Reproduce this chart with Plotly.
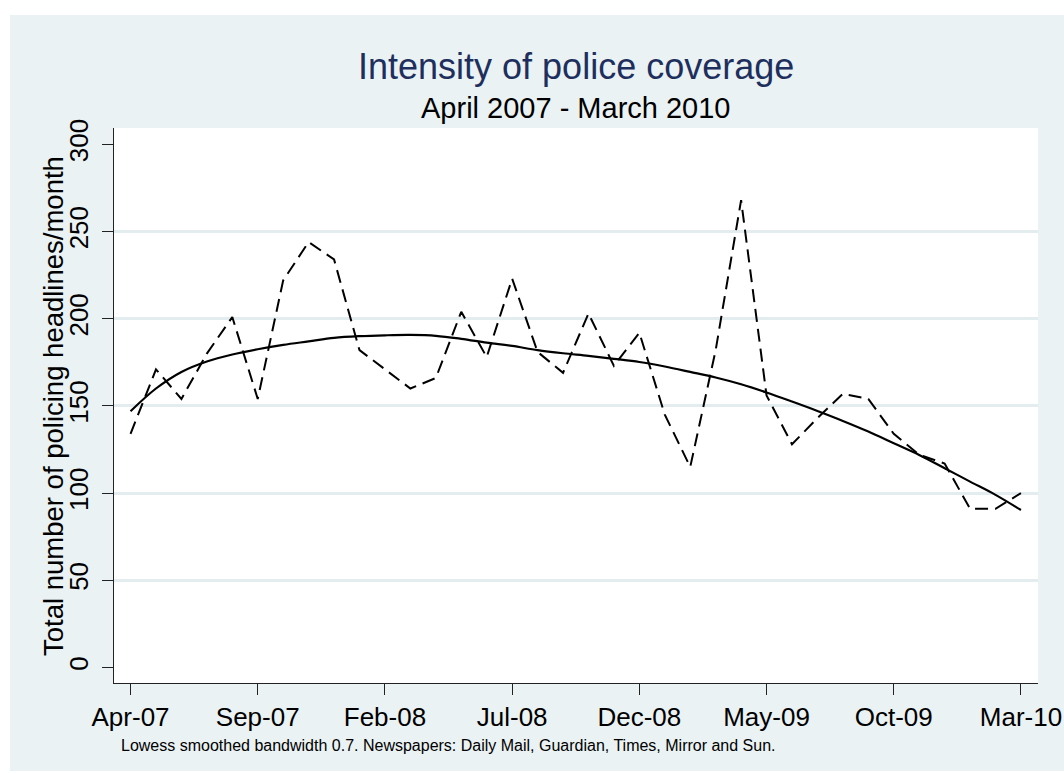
import plotly.graph_objects as go

# ---- data ----
months = ["Apr-07", "May-07", "Jun-07", "Jul-07", "Aug-07", "Sep-07", "Oct-07", "Nov-07", "Dec-07",
          "Jan-08", "Feb-08", "Mar-08", "Apr-08", "May-08", "Jun-08", "Jul-08", "Aug-08", "Sep-08",
          "Oct-08", "Nov-08", "Dec-08", "Jan-09", "Feb-09", "Mar-09", "Apr-09", "May-09", "Jun-09",
          "Jul-09", "Aug-09", "Sep-09", "Oct-09", "Nov-09", "Dec-09", "Jan-10", "Feb-10", "Mar-10"]
headlines = [134, 171, 154, 180, 201, 154, 222, 244, 234, 182, 171, 160,
             166, 204, 178, 223, 181, 169, 203, 173, 192, 145, 115, 182,
             268, 156, 128, 143, 157, 154, 134, 122, 117, 91, 91, 100]
lowess = [147, 160, 169.5, 175.5, 179.5, 182.5, 185, 187, 189, 190, 190.5, 190.7,
          190.2, 188.5, 186.3, 184.4, 182, 180.2, 178.7, 177, 175.2, 172.6, 169.5, 166.3,
          162.4, 157.7, 152.5, 147.1, 141.4, 135.3, 128.6, 121.9, 114.3, 106.6, 99, 90.3]
x_tick_labels = ["Apr-07", "Sep-07", "Feb-08", "Jul-08", "Dec-08", "May-09", "Oct-09", "Mar-10"]
y_ticks = [0, 50, 100, 150, 200, 250, 300]
grid_ticks = [50, 100, 150, 200, 250]

title = "Intensity of police coverage"
subtitle = "April 2007 - March 2010"
y_title = "Total number of policing headlines/month"
note = "Lowess smoothed bandwidth 0.7. Newspapers: Daily Mail, Guardian, Times, Mirror and Sun."

# ---- layout constants ----
W, H = 1064, 774
ML, MR, MT, MB = 114, 26, 128, 91
PW, PH = W - ML - MR, H - MT - MB
BG = "#EAF2F3"
FONT = "Liberation Sans, Arial, sans-serif"


def px_x(px):
    return (px - ML) / PW


def px_y(py):
    return 1 - (py - MT) / PH


idx = list(range(len(months)))
tick_idx = [months.index(m) for m in x_tick_labels]

fig = go.Figure()
fig.add_trace(go.Scatter(x=idx, y=headlines, mode="lines",
                         line=dict(color="black", width=2, dash="13px,7px"),
                         hoverinfo="skip", showlegend=False))
fig.add_trace(go.Scatter(x=idx, y=lowess, mode="lines",
                         line=dict(color="black", width=2.2, shape="spline"),
                         hoverinfo="skip", showlegend=False))
# invisible trace to activate grid axis
fig.add_trace(go.Scatter(x=[idx[0]], y=[headlines[0]], yaxis="y2", mode="markers",
                         marker=dict(opacity=0), hoverinfo="skip", showlegend=False))

yr = [-8.9, 309.4]
fig.update_layout(
    template="none",
    width=W, height=H,
    margin=dict(l=ML, r=MR, t=MT, b=MB, pad=0, autoexpand=False),
    paper_bgcolor=BG, plot_bgcolor="white",
    font=dict(family=FONT, color="black"),
    xaxis=dict(range=[-0.65, 35.67], tickmode="array", tickvals=tick_idx, ticktext=x_tick_labels,
               automargin=False,
               showgrid=False, zeroline=False, showline=True, linecolor="#222222", linewidth=1.3,
               ticks="outside", ticklen=11, tickwidth=1.3, tickcolor="#222222",
               tickfont=dict(size=26, family=FONT, color="black")),
    yaxis=dict(range=yr, tickmode="array", tickvals=y_ticks, automargin=False,
               showgrid=False, zeroline=False, showline=True, linecolor="#222222", linewidth=1.3,
               ticks="outside", ticklen=11, tickwidth=1.3, tickcolor="#222222", tickangle=-90,
               ticklabelstandoff=3,
               tickfont=dict(size=26, family=FONT, color="black")),
    yaxis2=dict(range=yr, overlaying="y", tickmode="array", tickvals=grid_ticks, automargin=False,
                showgrid=True, gridcolor="#E3EDEF", gridwidth=2.5, zeroline=False,
                showline=False, showticklabels=False, ticks=""),
    showlegend=False,
)

annotations = [
    dict(text=title, x=0.5, y=px_y(66), xref="paper", yref="paper", xanchor="center", yanchor="middle",
         showarrow=False, font=dict(size=36, color="#1E2F5E", family=FONT)),
    dict(text=subtitle, x=0.5, y=px_y(108), xref="paper", yref="paper", xanchor="center", yanchor="middle",
         showarrow=False, font=dict(size=29, color="black", family=FONT)),
    dict(text=y_title, x=px_x(53), y=px_y(406), xref="paper", yref="paper", xanchor="center", yanchor="middle",
         textangle=-90, showarrow=False, font=dict(size=27.5, color="black", family=FONT)),
    dict(text=note, x=px_x(119), y=px_y(745), xref="paper", yref="paper", xanchor="left", yanchor="middle",
         showarrow=False, font=dict(size=16, color="black", family=FONT)),
]
fig.update_layout(annotations=annotations)

# white page margins around the grey-blue background panel
shapes = [
    dict(type="rect", xref="paper", yref="paper", x0=px_x(0), x1=px_x(W), y0=px_y(0), y1=px_y(15),
         fillcolor="white", line=dict(width=0), layer="above"),
    dict(type="rect", xref="paper", yref="paper", x0=px_x(0), x1=px_x(10), y0=px_y(0), y1=px_y(H),
         fillcolor="white", line=dict(width=0), layer="above"),
    dict(type="rect", xref="paper", yref="paper", x0=px_x(0), x1=px_x(W), y0=px_y(771), y1=px_y(H),
         fillcolor="white", line=dict(width=0), layer="above"),
]
fig.update_layout(shapes=shapes)

fig.write_html("out.html")
